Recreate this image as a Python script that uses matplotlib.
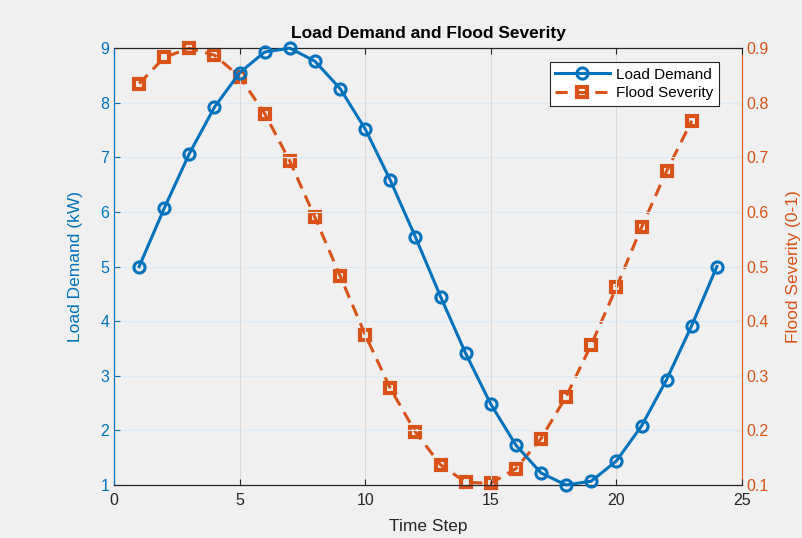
import matplotlib

matplotlib.use("Agg")
import matplotlib.pyplot as plt  # noqa: E402

plt.rcParams["font.family"] = ["Liberation Sans", "DejaVu Sans"]

# data
time_load = list(range(1, 25))
load_kw = [5.0, 6.07, 7.07, 7.92, 8.55, 8.93, 9.0, 8.76, 8.26, 7.52, 6.58, 5.54,
           4.45, 3.41, 2.48, 1.73, 1.22, 1.0, 1.07, 1.44, 2.08, 2.93, 3.92, 5.0]
time_flood = list(range(1, 24))
flood = [0.835, 0.883, 0.9, 0.887, 0.848, 0.78, 0.693, 0.59, 0.483, 0.375, 0.277,
         0.197, 0.137, 0.105, 0.103, 0.13, 0.185, 0.262, 0.357, 0.462, 0.572,
         0.675, 0.767]
xticks = [0, 5, 10, 15, 20, 25]
yticks_left = [1, 2, 3, 4, 5, 6, 7, 8, 9]
yticks_right = [0.1, 0.2, 0.3, 0.4, 0.5, 0.6, 0.7, 0.8, 0.9]

BLUE = "#0072BD"
ORANGE = "#D95319"

fig = plt.figure(figsize=(8.03, 5.38), dpi=100, facecolor="#f0f0f0")
ax = fig.add_axes([0.142, 0.0985, 0.782, 0.812])
ax2 = ax.twinx()

ax.set_zorder(ax2.get_zorder() + 1)
ax.patch.set_visible(False)
ax2.set_facecolor("white")

l1, = ax.plot(time_load, load_kw, "-o", color=BLUE, lw=2.2, ms=8,
              mfc="none", mew=2.2, label="Load Demand", zorder=3, clip_on=False)
l2, = ax2.plot(time_flood, flood, "--s", color=ORANGE, lw=2.2, ms=6.5,
               mfc="none", mew=3.0, dashes=(4, 2.5), label="Flood Severity",
               clip_on=False)

ax.set_xlim(0, 25)
ax.set_ylim(1, 9)
ax2.set_ylim(0.1, 0.9)
ax.set_xticks(xticks)
ax.set_yticks(yticks_left)
ax2.set_yticks(yticks_right)
ax2.set_yticklabels([f"{v:g}" for v in yticks_right])

ax2.grid(False)
ax.grid(axis="x", color="#d9d9d9", lw=0.8)
for y in yticks_left:
    ax.axhline(y, color="#dde9f3", lw=0.8, zorder=0)

ax.tick_params(axis="x", direction="in", top=True, labelsize=11.5, colors="#262626",
               length=4, pad=6)
ax.tick_params(axis="y", direction="in", colors=BLUE, labelsize=11.5, length=4)
ax2.tick_params(axis="y", direction="in", colors=ORANGE, labelsize=11.5, length=4)
for s in ("top", "bottom"):
    ax.spines[s].set_color("#262626")
    ax2.spines[s].set_color("#262626")
ax.spines["left"].set_color(BLUE)
ax2.spines["left"].set_color(BLUE)
ax2.spines["right"].set_color(ORANGE)
ax.spines["right"].set_visible(False)

ax.set_xlabel("Time Step", fontsize=12.5, color="#262626", labelpad=8)
ax.set_ylabel("Load Demand (kW)", fontsize=12.5, color=BLUE, labelpad=12)
ax2.set_ylabel("Flood Severity (0-1)", fontsize=12.5, color=ORANGE, labelpad=12)
ax.set_title("Load Demand and Flood Severity", fontsize=12.5, fontweight="bold",
             color="#000000", pad=7)

leg = ax.legend(handles=[l1, l2], loc="upper right", fontsize=11,
                handlelength=3.6, fancybox=False, edgecolor="#262626",
                framealpha=1, borderpad=0.35, labelspacing=0.3,
                handletextpad=0.4, bbox_to_anchor=(0.975, 0.985))
leg.get_frame().set_linewidth(0.8)

fig.savefig("out.png", dpi=100, facecolor=fig.get_facecolor())
